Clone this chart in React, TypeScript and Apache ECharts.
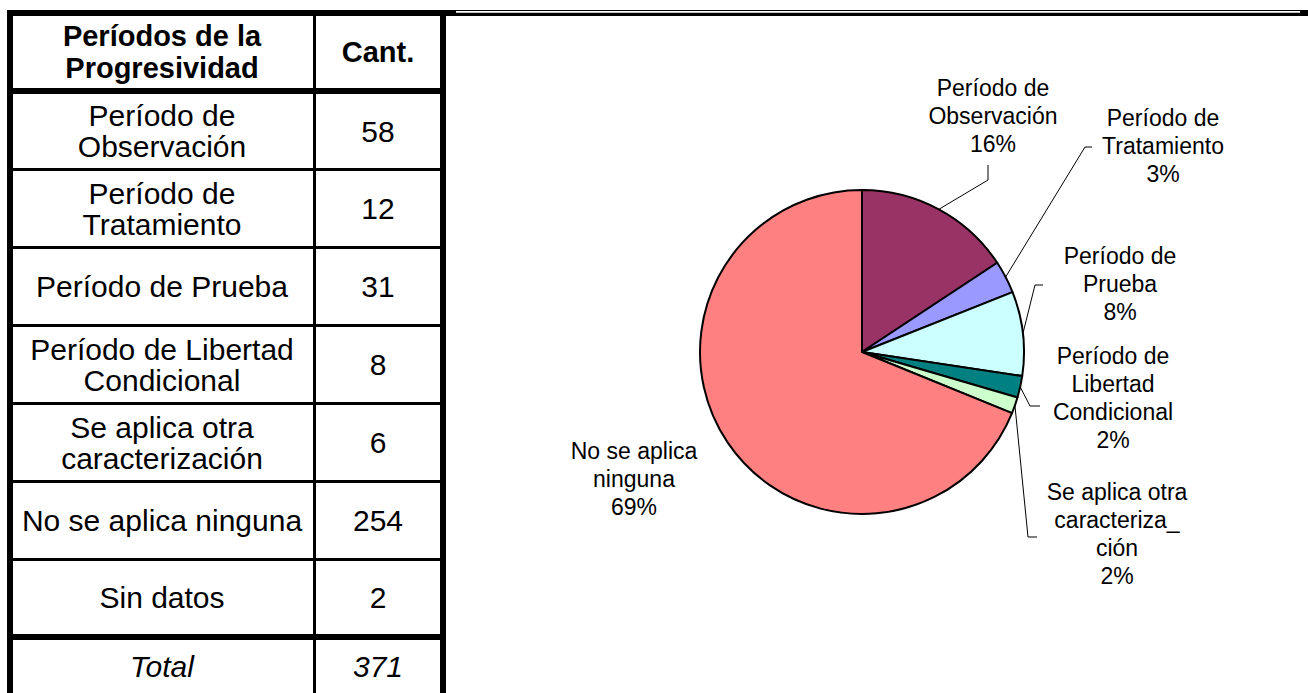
import React, { useEffect, useRef } from 'react';
import * as echarts from 'echarts';

// ---- data ----
const headerLabels = ['Períodos de la\nProgresividad', 'Cant.'];
const tableCategories = [
  'Período de\nObservación',
  'Período de\nTratamiento',
  'Período de Prueba',
  'Período de Libertad\nCondicional',
  'Se aplica otra\ncaracterización',
  'No se aplica ninguna',
  'Sin datos',
];
const tableValues = [58, 12, 31, 8, 6, 254, 2];
const totalLabel = 'Total';
const totalValue = 371;

const pieNames = [
  'Período de\nObservación',
  'Período de\nTratamiento',
  'Período de\nPrueba',
  'Período de\nLibertad\nCondicional',
  'Se aplica otra\ncaracteriza_\nción',
  'No se aplica\nninguna',
];
const pieValues = [58, 12, 31, 8, 6, 254];
const pieColors = ['#993366', '#9999FF', '#CCFFFF', '#008080', '#CCFFCC', '#FF8080'];

// ---- layout (pixels) ----
const FONT = '"Liberation Sans", Arial, Helvetica, sans-serif';
const COL1_X = 162;
const COL2_X = 378;
const HEADER_Y = 52;
const ROW_Y = [131, 208.5, 286.5, 364.5, 442.5, 520.5, 597.5];
const TOTAL_Y = 666.5;
const H_LINES: [number, number][] = [
  [88, 6], [168, 3], [246, 3], [324, 3], [402, 3], [480, 3], [558, 3], [634, 6],
];
// label centre positions and leader-line shapes for pie labels
const LABEL_POS: [number, number][] = [
  [993, 116], [1163, 146], [1120, 284], [1113, 398], [1117, 534], [634, 479],
];
const LEADER: ([number, number][] | null)[] = [
  [[988, 180], [988, 165]],
  [[1085, 147], [1092, 147]],
  [[1035, 285], [1043, 285]],
  [[1030, 406], [1040, 406]],
  [[1028, 537], [1037, 537]],
  null,
];

export default function App() {
  const ref = useRef<HTMLDivElement>(null);
  useEffect(() => {
    if (!ref.current) return;
    const chart = echarts.init(ref.current, null, { renderer: 'svg' });

    const graphics: any[] = [];
    // top band
    graphics.push({ type: 'rect', shape: { x: 7, y: 10, width: 1301, height: 6 }, style: { fill: '#000' } });
    graphics.push({ type: 'rect', shape: { x: 456, y: 11, width: 844, height: 1.7 }, style: { fill: '#fff' } });
    // vertical borders
    graphics.push({ type: 'rect', shape: { x: 7, y: 10, width: 6, height: 683 }, style: { fill: '#000' } });
    graphics.push({ type: 'rect', shape: { x: 313, y: 10, width: 3, height: 683 }, style: { fill: '#000' } });
    graphics.push({ type: 'rect', shape: { x: 440, y: 10, width: 6, height: 683 }, style: { fill: '#000' } });
    H_LINES.forEach(([y, h]) => {
      graphics.push({ type: 'rect', shape: { x: 7, y, width: 439, height: h }, style: { fill: '#000' } });
    });

    const txt = (text: string, x: number, y: number, opts: any = {}) => ({
      type: 'text',
      x,
      y,
      style: {
        text,
        fill: '#000',
        fontFamily: FONT,
        fontSize: 30,
        lineHeight: 31,
        align: 'center',
        verticalAlign: 'middle',
        ...opts,
      },
    });

    graphics.push(txt(headerLabels[0], COL1_X, HEADER_Y, { fontWeight: 'bold', fontSize: 29, lineHeight: 32 }));
    graphics.push(txt(headerLabels[1], COL2_X, HEADER_Y, { fontWeight: 'bold', fontSize: 29 }));
    tableCategories.forEach((c, i) => {
      graphics.push(txt(c, COL1_X, ROW_Y[i]));
      graphics.push(txt(String(tableValues[i]), COL2_X, ROW_Y[i]));
    });
    graphics.push(txt(totalLabel, COL1_X, TOTAL_Y, { fontStyle: 'italic' }));
    graphics.push(txt(String(totalValue), COL2_X, TOTAL_Y, { fontStyle: 'italic' }));

    const option: any = {
      animation: false,
      backgroundColor: '#fff',
      graphic: { elements: graphics },
      series: [
        {
          type: 'pie',
          silent: true,
          center: [862, 352],
          radius: 162,
          startAngle: 90,
          clockwise: true,
          avoidLabelOverlap: false,
          itemStyle: { borderColor: '#000', borderWidth: 2 },
          label: {
            show: true,
            position: 'outside',
            color: '#000',
            fontFamily: FONT,
            fontSize: 23,
            lineHeight: 28,
            formatter: (p: any) => `${p.name}\n${Math.round(p.percent)}%`,
          },
          labelLine: { show: true, length: 10, length2: 10, lineStyle: { color: '#000', width: 1 } },
          labelLayout: (params: any) => {
            const i = params.dataIndex;
            const [x, y] = LABEL_POS[i];
            const res: any = { x, y, align: 'center', verticalAlign: 'middle' };
            const lead = LEADER[i];
            if (lead && params.labelLinePoints && params.labelLinePoints[0]) {
              res.labelLinePoints = [params.labelLinePoints[0], lead[0], lead[1]];
            }
            return res;
          },
          data: pieValues.map((v, i) => ({
            value: v,
            name: pieNames[i],
            itemStyle: { color: pieColors[i] },
            labelLine: { show: LEADER[i] !== null },
          })),
        },
      ],
    };
    chart.setOption(option);
    return () => chart.dispose();
  }, []);

  return (
    <div
      ref={ref}
      style={{ position: 'fixed', left: 0, top: 0, width: 1308, height: 693, background: '#fff' }}
    />
  );
}
